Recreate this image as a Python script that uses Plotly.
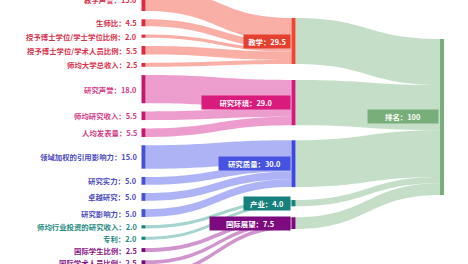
import plotly.graph_objects as go

# ---------------- data ----------------
mid_names = ["教学", "研究环境", "研究质量", "产业", "国际展望"]
mid_values = [29.5, 29.0, 30.0, 4.0, 7.5]

left_names = [
    "教学声誉", "生师比", "授予博士学位/学士学位比例", "授予博士学位/学术人员比例", "师均大学总收入",
    "研究声誉", "师均研究收入", "人均发表量",
    "领域加权的引用影响力", "研究实力", "卓越研究", "研究影响力",
    "师均行业投资的研究收入", "专利",
    "国际学生比例", "国际学术人员比例", "国际合作",
]
left_values = [15.0, 4.5, 2.0, 5.5, 2.5,
               18.0, 5.5, 5.5,
               15.0, 5.0, 5.0, 5.0,
               2.0, 2.0,
               2.5, 2.5, 2.5]
left_parent = [0, 0, 0, 0, 0,
               1, 1, 1,
               2, 2, 2, 2,
               3, 3,
               4, 4, 4]

total_name = "排名"
total_value = 100

# ---------------- styles / layout constants ----------------
W, H = 468, 264
PX_PER_UNIT = 1.56
LEFT_TOP, LEFT_GAP = -12.4, 8.3
MID_TOP, MID_GAPS = 18.0, [16, 15, 13, 11]
RIGHT_TOP = 39.0
X_LEFT, X_MID, X_RIGHT = 143.5, 293.5, 442.0
THICK = 4

node_dark = ["#e0283f", "#c8166c", "#4450dc", "#16807a", "#7a0a7c"]    # left child bars
mid_node = ["#f0462e", "#d3197b", "#3c48e0", "#16807c", "#7b0a80"]
box_bg = ["#e5402f", "#d81b7d", "#4652e0", "#16807c", "#7d0a7f"]
label_col = ["#d8304a", "#d23b88", "#4b4bbd", "#238a82", "#8a1788"]
link_col = ["rgba(248,160,150,0.85)", "rgba(234,140,196,0.85)", "rgba(160,166,244,0.85)",
            "rgba(150,206,199,0.85)", "rgba(200,130,198,0.85)"]
right_node = "#78ae7a"
right_link = "rgba(190,218,193,0.9)"
box_w = [46, 88, 71, 46, 80]
FONT = "Noto Sans CJK SC"
FS = 7.4

# ---------------- positions from values ----------------
def centers(values, top, gaps):
    out, y = [], top
    for i, v in enumerate(values):
        h = v * PX_PER_UNIT
        out.append(y + h / 2)
        y += h + (gaps[i] if i < len(gaps) else 0)
    return out

left_c = centers(left_values, LEFT_TOP, [LEFT_GAP] * len(left_values))
mid_c = centers(mid_values, MID_TOP, MID_GAPS)
right_c = centers([total_value], RIGHT_TOP, [])

nL, nM = len(left_names), len(mid_names)
idx_mid = [nL + i for i in range(nM)]
idx_right = nL + nM

node_x = [X_LEFT / W] * nL + [X_MID / W] * nM + [X_RIGHT / W]
node_y = [c / H for c in left_c] + [c / H for c in mid_c] + [right_c[0] / H]
node_colors = [node_dark[p] for p in left_parent] + mid_node + [right_node]

src, tgt, val, lcol = [], [], [], []
for i, (v, p) in enumerate(zip(left_values, left_parent)):
    src.append(i); tgt.append(idx_mid[p]); val.append(v); lcol.append(link_col[p])
for j, v in enumerate(mid_values):
    src.append(idx_mid[j]); tgt.append(idx_right); val.append(v); lcol.append(right_link)

# padding chosen so the plotted scale equals PX_PER_UNIT
pad = (H - sum(left_values) * PX_PER_UNIT) / (nL - 1)

fig = go.Figure(go.Sankey(
    arrangement="fixed",
    domain=dict(x=[0, 1], y=[0, 1]),
    node=dict(
        label=[""] * (nL + nM + 1),
        x=node_x, y=node_y,
        pad=pad, thickness=THICK,
        color=node_colors,
        line=dict(width=0),
        hoverinfo="skip",
    ),
    link=dict(source=src, target=tgt, value=val, color=lcol, hoverinfo="skip"),
))

ann = []
for name, v, p, c in zip(left_names, left_values, left_parent, left_c):
    ann.append(dict(
        text=f"<b>{name}：{v:.1f}</b>", x=(X_LEFT - THICK / 2 - 3) / W, y=1 - c / H,
        xref="paper", yref="paper", xanchor="right", yanchor="middle",
        showarrow=False, font=dict(family=FONT, size=FS, color=label_col[p]),
    ))
for j, (name, v, c) in enumerate(zip(mid_names, mid_values, mid_c)):
    ann.append(dict(
        text=f"<b>{name}：{v:.1f}</b>", x=(X_MID - THICK / 2 - 1) / W, y=1 - c / H,
        xref="paper", yref="paper", xanchor="right", yanchor="middle",
        showarrow=False, bgcolor=box_bg[j], borderpad=1, width=box_w[j] - 2,
        align="center", font=dict(family=FONT, size=FS, color="white"),
    ))
ann.append(dict(
    text=f"<b>{total_name}：{total_value}</b>", x=(X_RIGHT - THICK / 2 - 1) / W, y=1 - right_c[0] / H,
    xref="paper", yref="paper", xanchor="right", yanchor="middle",
    showarrow=False, bgcolor=right_node, borderpad=1, width=68, align="center",
    font=dict(family=FONT, size=FS, color="white"),
))

fig.update_layout(
    width=W, height=H,
    margin=dict(l=0, r=0, t=0, b=0),
    paper_bgcolor="white", plot_bgcolor="white",
    annotations=ann,
    font=dict(family=FONT),
)

fig.write_html("out.html")
